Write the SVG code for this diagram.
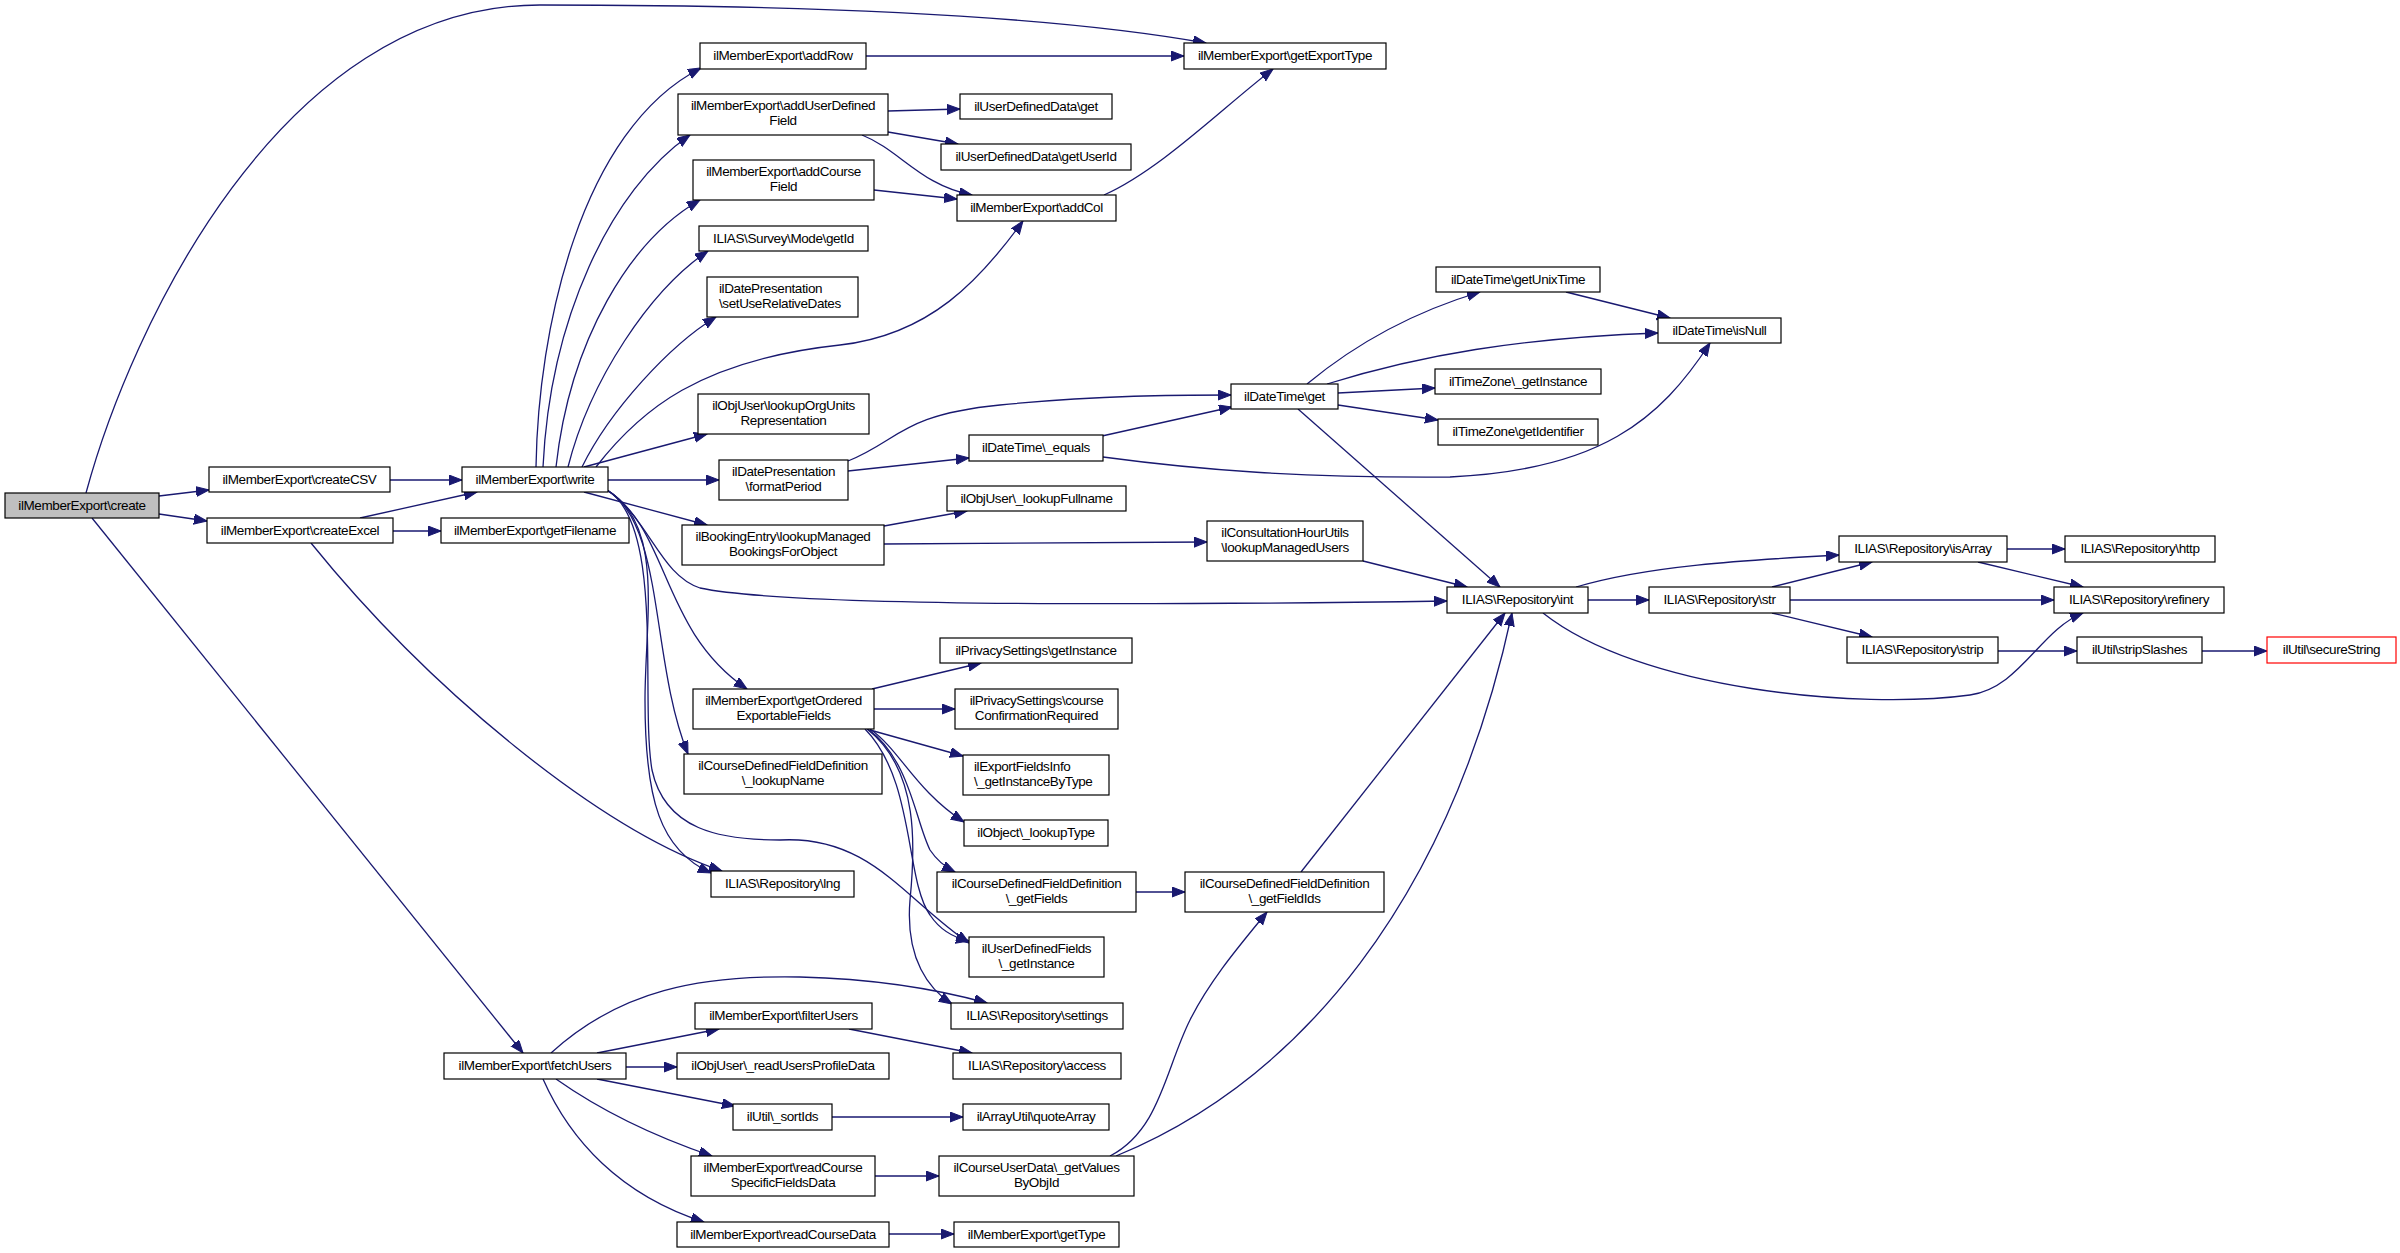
<svg xmlns="http://www.w3.org/2000/svg" width="2400" height="1253" viewBox="0 0 2400 1253">
<style>
.n rect{fill:#fff;stroke:#000;stroke-width:1.2}
.n text{font-family:"Liberation Sans",Arial,sans-serif;font-size:13.5px;letter-spacing:-0.4px;text-anchor:middle;fill:#000}
.n text.l{text-anchor:start}
#edges path{fill:none;stroke:#191970;stroke-width:1.3;marker-end:url(#ah)}
</style>
<defs>
<marker id="ah" markerUnits="userSpaceOnUse" markerWidth="15" markerHeight="12" refX="13" refY="5" orient="auto">
<path d="M0,0 L13,5 L0,10 z" fill="#191970" stroke="#191970" stroke-width="1"/>
</marker>
</defs>
<rect width="2400" height="1253" fill="#fff"/>
<g id="edges">
<path d="M86,493 C130,330 280,5 540,5 C800,5 1050,15 1206,43"/>
<path d="M159,496 L209,490"/>
<path d="M159,514 L207,521"/>
<path d="M92,518 L523,1053"/>
<path d="M390,480 L462,480"/>
<path d="M360,518 L477,492"/>
<path d="M393,531 L441,531"/>
<path d="M311,543 C430,690 600,830 722,871"/>
<path d="M536,467 C538,330 580,130 701,68"/>
<path d="M543,467 C550,320 610,190 690,135"/>
<path d="M556,467 C570,340 630,240 700,200"/>
<path d="M568,467 C590,380 650,290 708,251"/>
<path d="M582,467 C610,410 670,345 716,317"/>
<path d="M596,467 C640,410 700,360 840,345 C930,335 980,280 1023,221"/>
<path d="M584,467 L707,434"/>
<path d="M608,480 L719,480"/>
<path d="M584,492 L707,525"/>
<path d="M607,490 C650,520 660,575 700,588 C780,605 1100,606 1447,601"/>
<path d="M607,490 C670,530 660,630 747,689"/>
<path d="M607,490 C665,525 650,660 688,754"/>
<path d="M607,490 C665,525 645,620 645,700 C645,800 660,850 711,873"/>
<path d="M607,490 C665,525 640,700 652,770 C665,830 720,840 780,840 C870,835 905,900 969,943"/>
<path d="M866,56 L1184,56"/>
<path d="M888,111 L960,109"/>
<path d="M888,132 L958,144"/>
<path d="M862,135 C900,150 920,185 972,195"/>
<path d="M874,190 L957,199"/>
<path d="M1104,195 C1160,170 1220,110 1273,69"/>
<path d="M848,461 C900,440 900,415 1000,405 C1100,395 1180,395 1231,395"/>
<path d="M848,471 L969,458"/>
<path d="M1102,436 L1232,407"/>
<path d="M1103,457 C1200,470 1300,478 1450,477 C1600,470 1660,420 1710,343"/>
<path d="M1307,384 C1360,340 1420,310 1480,292"/>
<path d="M1327,384 C1420,355 1520,338 1658,333"/>
<path d="M1338,393 L1435,388"/>
<path d="M1338,405 L1438,420"/>
<path d="M1298,409 L1500,587"/>
<path d="M1566,292 L1670,318"/>
<path d="M884,526 L967,511"/>
<path d="M884,544 L1207,542"/>
<path d="M1363,561 L1467,587"/>
<path d="M1576,587 C1650,565 1750,560 1839,555"/>
<path d="M1588,600 L1649,600"/>
<path d="M1543,613 C1640,690 1860,710 1970,695 C2020,688 2040,630 2083,613"/>
<path d="M1772,587 L1872,562"/>
<path d="M1790,600 L2054,600"/>
<path d="M1772,613 L1872,637"/>
<path d="M2007,549 L2065,549"/>
<path d="M1978,562 L2083,587"/>
<path d="M1998,651 L2077,651"/>
<path d="M2202,651 L2267,651"/>
<path d="M872,689 L981,663"/>
<path d="M874,709 L955,709"/>
<path d="M870,730 L963,756"/>
<path d="M870,729 C900,750 915,790 964,822"/>
<path d="M868,729 C910,760 915,820 930,850 C938,862 947,868 955,872"/>
<path d="M865,729 C915,780 905,880 930,915 C940,930 955,938 969,941"/>
<path d="M867,729 C920,770 915,850 910,900 C905,960 930,990 952,1004"/>
<path d="M1136,892 L1185,892"/>
<path d="M1301,872 L1505,613"/>
<path d="M1110,1156 C1160,1130 1165,1070 1190,1020 C1210,980 1240,945 1267,912"/>
<path d="M1116,1156 C1300,1080 1450,900 1512,613"/>
<path d="M875,1176 L939,1176"/>
<path d="M889,1234 L954,1234"/>
<path d="M832,1117 L963,1117"/>
<path d="M849,1029 L972,1053"/>
<path d="M551,1053 C620,990 700,975 800,977 C880,979 940,990 987,1003"/>
<path d="M597,1053 L719,1029"/>
<path d="M626,1067 L677,1067"/>
<path d="M597,1079 L735,1106"/>
<path d="M556,1079 C600,1110 650,1135 712,1156"/>
<path d="M543,1079 C570,1140 620,1195 704,1222"/>
</g>
<g id="n_create" class="n"><rect x="5" y="493" width="154" height="25" style="fill:#bfbfbf"/><text x="82" y="510">ilMemberExport\create</text></g>
<g id="n_createCSV" class="n"><rect x="209" y="467" width="181" height="25"/><text x="299.5" y="484">ilMemberExport\createCSV</text></g>
<g id="n_createExcel" class="n"><rect x="207" y="518" width="186" height="25"/><text x="300" y="535">ilMemberExport\createExcel</text></g>
<g id="n_write" class="n"><rect x="462" y="467" width="146" height="25"/><text x="535" y="484">ilMemberExport\write</text></g>
<g id="n_getFilename" class="n"><rect x="441" y="518" width="188" height="25"/><text x="535" y="535">ilMemberExport\getFilename</text></g>
<g id="n_fetchUsers" class="n"><rect x="444" y="1053" width="182" height="26"/><text x="535" y="1070">ilMemberExport\fetchUsers</text></g>
<g id="n_addRow" class="n"><rect x="700" y="43" width="166" height="26"/><text x="783" y="60">ilMemberExport\addRow</text></g>
<g id="n_addUserDefinedField" class="n"><rect x="678" y="94" width="210" height="41"/><text x="783" y="110">ilMemberExport\addUserDefined</text><text x="783" y="125">Field</text></g>
<g id="n_addCourseField" class="n"><rect x="693" y="160" width="181" height="40"/><text x="783.5" y="176">ilMemberExport\addCourse</text><text x="783.5" y="191">Field</text></g>
<g id="n_getId" class="n"><rect x="699" y="226" width="169" height="25"/><text x="783.5" y="243">ILIAS\Survey\Mode\getId</text></g>
<g id="n_setUseRelativeDates" class="n"><rect x="707" y="277" width="151" height="40"/><text class="l" x="719" y="293">ilDatePresentation</text><text class="l" x="719" y="308">\setUseRelativeDates</text></g>
<g id="n_lookupOrgUnits" class="n"><rect x="698" y="394" width="171" height="40"/><text x="783.5" y="410">ilObjUser\lookupOrgUnits</text><text x="783.5" y="425">Representation</text></g>
<g id="n_formatPeriod" class="n"><rect x="719" y="460" width="129" height="40"/><text x="783.5" y="476">ilDatePresentation</text><text x="783.5" y="491">\formatPeriod</text></g>
<g id="n_lookupManagedBookings" class="n"><rect x="682" y="525" width="202" height="40"/><text x="783" y="541">ilBookingEntry\lookupManaged</text><text x="783" y="556">BookingsForObject</text></g>
<g id="n_getOrdered" class="n"><rect x="693" y="689" width="181" height="40"/><text x="783.5" y="705">ilMemberExport\getOrdered</text><text x="783.5" y="720">ExportableFields</text></g>
<g id="n_lookupName" class="n"><rect x="684" y="754" width="198" height="40"/><text x="783" y="770">ilCourseDefinedFieldDefinition</text><text x="783" y="785">\_lookupName</text></g>
<g id="n_lng" class="n"><rect x="711" y="871" width="143" height="26"/><text x="782.5" y="888">ILIAS\Repository\lng</text></g>
<g id="n_filterUsers" class="n"><rect x="695" y="1003" width="177" height="26"/><text x="783.5" y="1020">ilMemberExport\filterUsers</text></g>
<g id="n_readUsersProfileData" class="n"><rect x="677" y="1053" width="212" height="26"/><text x="783" y="1070">ilObjUser\_readUsersProfileData</text></g>
<g id="n_sortIds" class="n"><rect x="733" y="1104" width="99" height="26"/><text x="782.5" y="1121">ilUtil\_sortIds</text></g>
<g id="n_readCourseSpecific" class="n"><rect x="691" y="1156" width="184" height="40"/><text x="783" y="1172">ilMemberExport\readCourse</text><text x="783" y="1187">SpecificFieldsData</text></g>
<g id="n_readCourseData" class="n"><rect x="677" y="1222" width="212" height="25"/><text x="783" y="1239">ilMemberExport\readCourseData</text></g>
<g id="n_uddGet" class="n"><rect x="960" y="94" width="152" height="25"/><text x="1036" y="111">ilUserDefinedData\get</text></g>
<g id="n_getUserId" class="n"><rect x="941" y="144" width="190" height="26"/><text x="1036" y="161">ilUserDefinedData\getUserId</text></g>
<g id="n_addCol" class="n"><rect x="957" y="195" width="159" height="26"/><text x="1036.5" y="212">ilMemberExport\addCol</text></g>
<g id="n_equals" class="n"><rect x="969" y="435" width="134" height="26"/><text x="1036" y="452">ilDateTime\_equals</text></g>
<g id="n_lookupFullname" class="n"><rect x="947" y="486" width="179" height="25"/><text x="1036.5" y="503">ilObjUser\_lookupFullname</text></g>
<g id="n_privGetInstance" class="n"><rect x="940" y="638" width="192" height="25"/><text x="1036" y="655">ilPrivacySettings\getInstance</text></g>
<g id="n_courseConf" class="n"><rect x="955" y="689" width="163" height="40"/><text x="1036.5" y="705">ilPrivacySettings\course</text><text x="1036.5" y="720">ConfirmationRequired</text></g>
<g id="n_getInstanceByType" class="n"><rect x="963" y="755" width="146" height="40"/><text class="l" x="974" y="771">ilExportFieldsInfo</text><text class="l" x="974" y="786">\_getInstanceByType</text></g>
<g id="n_lookupType" class="n"><rect x="964" y="820" width="144" height="26"/><text x="1036" y="837">ilObject\_lookupType</text></g>
<g id="n_getFields" class="n"><rect x="937" y="872" width="199" height="40"/><text x="1036.5" y="888">ilCourseDefinedFieldDefinition</text><text x="1036.5" y="903">\_getFields</text></g>
<g id="n_udfGetInstance" class="n"><rect x="969" y="937" width="135" height="40"/><text x="1036.5" y="953">ilUserDefinedFields</text><text x="1036.5" y="968">\_getInstance</text></g>
<g id="n_settings" class="n"><rect x="951" y="1003" width="172" height="26"/><text x="1037" y="1020">ILIAS\Repository\settings</text></g>
<g id="n_access" class="n"><rect x="953" y="1053" width="168" height="26"/><text x="1037" y="1070">ILIAS\Repository\access</text></g>
<g id="n_quoteArray" class="n"><rect x="963" y="1104" width="146" height="26"/><text x="1036" y="1121">ilArrayUtil\quoteArray</text></g>
<g id="n_getValuesByObjId" class="n"><rect x="939" y="1156" width="195" height="40"/><text x="1036.5" y="1172">ilCourseUserData\_getValues</text><text x="1036.5" y="1187">ByObjId</text></g>
<g id="n_getType" class="n"><rect x="954" y="1222" width="165" height="25"/><text x="1036.5" y="1239">ilMemberExport\getType</text></g>
<g id="n_getExportType" class="n"><rect x="1184" y="43" width="202" height="26"/><text x="1285" y="60">ilMemberExport\getExportType</text></g>
<g id="n_dtGet" class="n"><rect x="1231" y="384" width="107" height="25"/><text x="1284.5" y="401">ilDateTime\get</text></g>
<g id="n_lookupManagedUsers" class="n"><rect x="1207" y="521" width="156" height="40"/><text x="1285" y="537">ilConsultationHourUtils</text><text x="1285" y="552">\lookupManagedUsers</text></g>
<g id="n_getFieldIds" class="n"><rect x="1185" y="872" width="199" height="40"/><text x="1284.5" y="888">ilCourseDefinedFieldDefinition</text><text x="1284.5" y="903">\_getFieldIds</text></g>
<g id="n_getUnixTime" class="n"><rect x="1436" y="267" width="164" height="25"/><text x="1518" y="284">ilDateTime\getUnixTime</text></g>
<g id="n_isNull" class="n"><rect x="1658" y="318" width="123" height="25"/><text x="1719.5" y="335">ilDateTime\isNull</text></g>
<g id="n_tzGetInstance" class="n"><rect x="1435" y="369" width="166" height="25"/><text x="1518" y="386">ilTimeZone\_getInstance</text></g>
<g id="n_getIdentifier" class="n"><rect x="1438" y="419" width="160" height="26"/><text x="1518" y="436">ilTimeZone\getIdentifier</text></g>
<g id="n_int" class="n"><rect x="1447" y="587" width="141" height="26"/><text x="1517.5" y="604">ILIAS\Repository\int</text></g>
<g id="n_str" class="n"><rect x="1649" y="587" width="141" height="26"/><text x="1719.5" y="604">ILIAS\Repository\str</text></g>
<g id="n_isArray" class="n"><rect x="1839" y="536" width="168" height="26"/><text x="1923" y="553">ILIAS\Repository\isArray</text></g>
<g id="n_http" class="n"><rect x="2065" y="536" width="150" height="26"/><text x="2140" y="553">ILIAS\Repository\http</text></g>
<g id="n_refinery" class="n"><rect x="2054" y="587" width="170" height="26"/><text x="2139" y="604">ILIAS\Repository\refinery</text></g>
<g id="n_strip" class="n"><rect x="1847" y="637" width="151" height="26"/><text x="1922.5" y="654">ILIAS\Repository\strip</text></g>
<g id="n_stripSlashes" class="n"><rect x="2077" y="637" width="125" height="26"/><text x="2139.5" y="654">ilUtil\stripSlashes</text></g>
<g id="n_secureString" class="n"><rect x="2267" y="637" width="129" height="26" style="stroke:#ff0000"/><text x="2331.5" y="654">ilUtil\secureString</text></g>
</svg>
